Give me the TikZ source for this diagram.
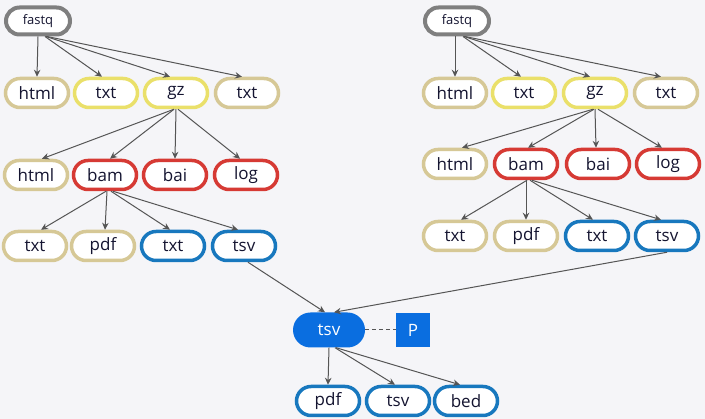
\documentclass[tikz,border=0pt]{standalone}
\usepackage{fontspec}
\setmainfont{Open Sans}
\usetikzlibrary{arrows.meta}
\definecolor{bg}{HTML}{F5F5F8}
\definecolor{cgray}{HTML}{7F7F7F}
\definecolor{cbeige}{HTML}{D6C896}
\definecolor{cyellow}{HTML}{EAE06A}
\definecolor{cred}{HTML}{D63A34}
\definecolor{cblue}{HTML}{1878BE}
\definecolor{cfill}{HTML}{0A6EE0}
\definecolor{ctext}{HTML}{141430}
\definecolor{carrow}{HTML}{555555}
\tikzset{
  x=1pt, y=-1pt,
  file/.style={draw, fill=white, rounded corners=14.5pt, minimum width=63pt, minimum height=29pt,
    line width=3.5pt, inner sep=0pt, text=ctext, font=\fontsize{17}{19}\selectfont},
  gfile/.style={file, draw=cgray, line width=4pt, minimum width=64pt, minimum height=27pt,
    rounded corners=13.5pt, font=\fontsize{13}{15}\selectfont},
  bfile/.style={file, draw=cbeige},
  yfile/.style={file, draw=cyellow},
  rfile/.style={file, draw=cred},
  ufile/.style={file, draw=cblue},
  sfile/.style={draw=none, fill=cfill, rounded corners=17.5pt, minimum width=72pt, minimum height=35pt,
    inner sep=0pt, text=white, font=\fontsize{17}{19}\selectfont},
  pbox/.style={draw=none, fill=cfill, minimum width=34pt, minimum height=34pt, inner sep=0pt,
    text=white, font=\fontsize{17}{19}\selectfont},
  arr/.style={draw=carrow, line width=1pt, -{Stealth[length=7pt,width=6.5pt]}},
}
\begin{document}
\begin{tikzpicture}
\fill[bg] (0,0) rectangle (705,419);
\useasboundingbox (0,0) rectangle (705,419);
% left tree
\node[gfile] (lf) at (38,21) {fastq};
\node[bfile] (l2a) at (37,93) {html};
\node[yfile] (l2b) at (106,93) {txt};
\node[yfile] (l2c) at (176,93) {gz};
\node[bfile] (l2d) at (247,93) {txt};
\node[bfile] (l3a) at (36,175) {html};
\node[rfile] (l3b) at (105,175) {bam};
\node[rfile] (l3c) at (175,175) {bai};
\node[rfile] (l3d) at (246,175) {log};
\node[bfile] (l4a) at (35,246) {txt};
\node[bfile] (l4b) at (103,246) {pdf};
\node[ufile] (l4c) at (173,246) {txt};
\node[ufile] (l4d) at (244,246) {tsv};
% right tree
\node[gfile] (rf) at (457,21) {fastq};
\node[bfile] (r2a) at (455,93) {html};
\node[yfile] (r2b) at (524,93) {txt};
\node[yfile] (r2c) at (595,93) {gz};
\node[bfile] (r2d) at (666,93) {txt};
\node[bfile] (r3a) at (455,164) {html};
\node[rfile] (r3b) at (526,164) {bam};
\node[rfile] (r3c) at (598,164) {bai};
\node[rfile] (r3d) at (668,164) {log};
\node[bfile] (r4a) at (455,236) {txt};
\node[bfile] (r4b) at (526,236) {pdf};
\node[ufile] (r4c) at (597,236) {txt};
\node[ufile] (r4d) at (667,236) {tsv};
% merge
\node[sfile] (m) at (329,330) {tsv};
\node[pbox] (p) at (413,330) {P};
\node[ufile] (b1) at (328,401) {pdf};
\node[ufile] (b2) at (398,401) {tsv};
\node[ufile] (b3) at (466,401) {bed};
% left edges
\draw[arr] (lf.south) -- (l2a.north);
\draw[arr] ([xshift=7pt]lf.south) -- ([xshift=-4pt]l2b.north);
\draw[arr] ([xshift=8pt]lf.south) -- ([xshift=-6pt]l2c.north);
\draw[arr] ([xshift=9pt]lf.south) -- ([xshift=-5pt]l2d.north);
\draw[arr] ([xshift=-2pt]l2c.south) -- ([xshift=6pt]l3a.north);
\draw[arr] ([xshift=-2pt]l2c.south) -- ([xshift=5pt]l3b.north);
\draw[arr] (l2c.south) -- (l3c.north);
\draw[arr] ([xshift=2pt]l2c.south) -- ([xshift=-6pt]l3d.north);
\draw[arr] ([xshift=1pt]l3b.south) -- ([xshift=6pt]l4a.north);
\draw[arr] ([xshift=2pt]l3b.south) -- ([xshift=2pt]l4b.north);
\draw[arr] ([xshift=6pt]l3b.south) -- ([xshift=-3pt]l4c.north);
\draw[arr] ([xshift=8pt]l3b.south) -- ([xshift=-6pt]l4d.north);
% right edges
\draw[arr] ([xshift=-2pt]rf.south) -- (r2a.north);
\draw[arr] ([xshift=6pt]rf.south) -- ([xshift=-3pt]r2b.north);
\draw[arr] ([xshift=7pt]rf.south) -- ([xshift=-5pt]r2c.north);
\draw[arr] ([xshift=8pt]rf.south) -- ([xshift=-5pt]r2d.north);
\draw[arr] ([xshift=-2pt]r2c.south) -- ([xshift=7pt]r3a.north);
\draw[arr] ([xshift=-1pt]r2c.south) -- ([xshift=2pt]r3b.north);
\draw[arr] (r2c.south) -- ([xshift=-2pt]r3c.north);
\draw[arr] ([xshift=3pt]r2c.south) -- ([xshift=-6pt]r3d.north);
\draw[arr] ([xshift=1pt]r3b.south) -- ([xshift=6pt]r4a.north);
\draw[arr] (r3b.south) -- (r4b.north);
\draw[arr] ([xshift=4pt]r3b.south) -- ([xshift=-4pt]r4c.north);
\draw[arr] ([xshift=6pt]r3b.south) -- ([xshift=-6pt]r4d.north);
% merge edges
\draw[arr] ([xshift=4pt]l4d.south) -- ([xshift=-4pt]m.north);
\draw[arr] (r4d.south) -- ([xshift=5pt]m.north);
\draw[carrow, line width=1pt, dash pattern=on 3.5pt off 3.5pt] (m.east) -- (p.west);
\draw[arr] (m.south) -- (b1.north);
\draw[arr] ([xshift=6pt]m.south) -- ([xshift=-3pt]b2.north);
\draw[arr] ([xshift=7pt]m.south) -- ([xshift=-6pt]b3.north);
\end{tikzpicture}
\end{document}
